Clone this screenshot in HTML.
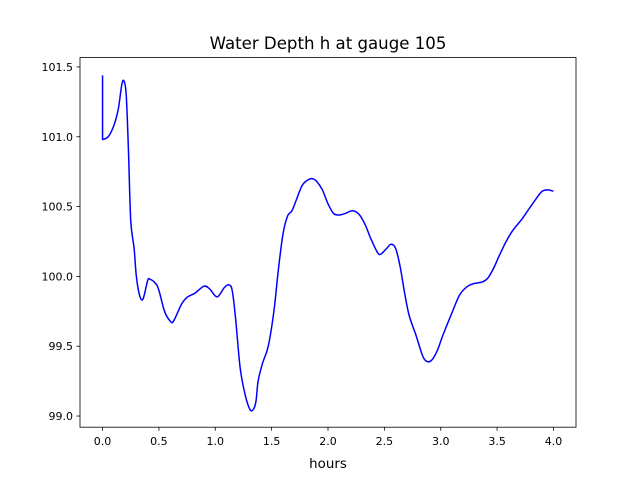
<!DOCTYPE html>
<html><head><meta charset="utf-8"><style>
body{margin:0;background:#fff}
svg text{font-family:"DejaVu Sans","Liberation Sans",sans-serif;fill:#000}
</style></head><body>
<svg id="chart" width="640" height="480" xmlns="http://www.w3.org/2000/svg">
<rect width="640" height="480" fill="#fff"/>
<text x="328" y="49" font-size="16.6" text-anchor="middle">Water Depth h at gauge 105</text>
<g id="plot"></g>
<text x="328" y="468" font-size="13.4" text-anchor="middle">hours</text>
</svg>
<script>
const hours=[0,0,0.05,0.1,0.14,0.17,0.19,0.21,0.23,0.25,0.28,0.3,0.33,0.36,0.4,0.42,0.47,0.5,0.55,0.6,0.63,0.7,0.75,0.82,0.9,0.95,1.0,1.03,1.08,1.12,1.15,1.18,1.22,1.26,1.3,1.33,1.36,1.38,1.42,1.47,1.52,1.56,1.6,1.64,1.68,1.72,1.77,1.82,1.86,1.9,1.95,2.0,2.05,2.1,2.15,2.22,2.28,2.33,2.38,2.44,2.47,2.52,2.56,2.6,2.64,2.68,2.72,2.78,2.84,2.88,2.92,2.97,3.02,3.1,3.17,3.24,3.3,3.37,3.42,3.47,3.52,3.58,3.64,3.72,3.78,3.85,3.9,3.95,4.0];
const depth=[101.44,100.98,101.0,101.08,101.2,101.37,101.40,101.3,100.9,100.4,100.2,100.0,99.86,99.84,99.97,99.98,99.95,99.9,99.75,99.68,99.68,99.8,99.85,99.88,99.93,99.91,99.86,99.86,99.92,99.94,99.9,99.7,99.35,99.17,99.06,99.04,99.1,99.25,99.38,99.5,99.75,100.05,100.3,100.43,100.47,100.55,100.65,100.69,100.70,100.68,100.62,100.52,100.45,100.44,100.45,100.47,100.44,100.37,100.27,100.17,100.16,100.2,100.23,100.2,100.07,99.88,99.72,99.58,99.43,99.39,99.40,99.47,99.58,99.74,99.87,99.93,99.95,99.96,99.99,100.06,100.15,100.25,100.33,100.41,100.48,100.56,100.61,100.62,100.61];
const xTicks=[0,0.5,1,1.5,2,2.5,3,3.5,4];
const xTickLabels=["0.0","0.5","1.0","1.5","2.0","2.5","3.0","3.5","4.0"];
const yTicks=[99,99.5,100,100.5,101,101.5];
const yTickLabels=["99.0","99.5","100.0","100.5","101.0","101.5"];
const L=80,R=576,T=57.6,B=427.2;
const xMin=-0.2,xMax=4.2,yMin=98.92,yMax=101.567;
const sx=v=>L+(v-xMin)/(xMax-xMin)*(R-L);
const sy=v=>B-(v-yMin)/(yMax-yMin)*(B-T);
const NS="http://www.w3.org/2000/svg";
const g=document.getElementById('plot');
function mk(tag,attrs){const e=document.createElementNS(NS,tag);for(const k in attrs)e.setAttribute(k,attrs[k]);g.appendChild(e);return e;}
const P=hours.map((h,i)=>[sx(h),sy(depth[i])]);
let d='M'+P[0][0].toFixed(2)+','+P[0][1].toFixed(2)+' L'+P[1][0].toFixed(2)+','+P[1][1].toFixed(2);
for(let i=1;i<P.length-1;i++){
 const p0=P[Math.max(1,i-1)],p1=P[i],p2=P[i+1],p3=P[Math.min(P.length-1,i+2)];
 const c1=[p1[0]+(p2[0]-p0[0])/6,p1[1]+(p2[1]-p0[1])/6];
 const c2=[p2[0]-(p3[0]-p1[0])/6,p2[1]-(p3[1]-p1[1])/6];
 d+=' C'+c1[0].toFixed(2)+','+c1[1].toFixed(2)+' '+c2[0].toFixed(2)+','+c2[1].toFixed(2)+' '+p2[0].toFixed(2)+','+p2[1].toFixed(2);
}
const line=mk('path',{d:d,fill:'none',stroke:'#0000ff','stroke-width':1.5,'stroke-linejoin':'round'});


xTicks.forEach((v,i)=>{
 const t=mk('line',{x1:sx(v),x2:sx(v),y1:B,y2:B+3.5,stroke:'#000','stroke-width':0.8});
 
 
 const tx=mk('text',{x:sx(v),y:B+18,'font-size':11,'text-anchor':'middle'});
 tx.textContent=xTickLabels[i];
 
 
});
yTicks.forEach((v,i)=>{
 const t=mk('line',{x1:L-3.5,x2:L,y1:sy(v),y2:sy(v),stroke:'#000','stroke-width':0.8});
 
 
 const tx=mk('text',{x:L-7,y:sy(v)+4,'font-size':11,'text-anchor':'end'});
 tx.textContent=yTickLabels[i];
 
 
});
const fr=mk('rect',{x:L,y:T,width:R-L,height:B-T,fill:'none',stroke:'#000','stroke-width':0.8});


</script>
</body></html>
